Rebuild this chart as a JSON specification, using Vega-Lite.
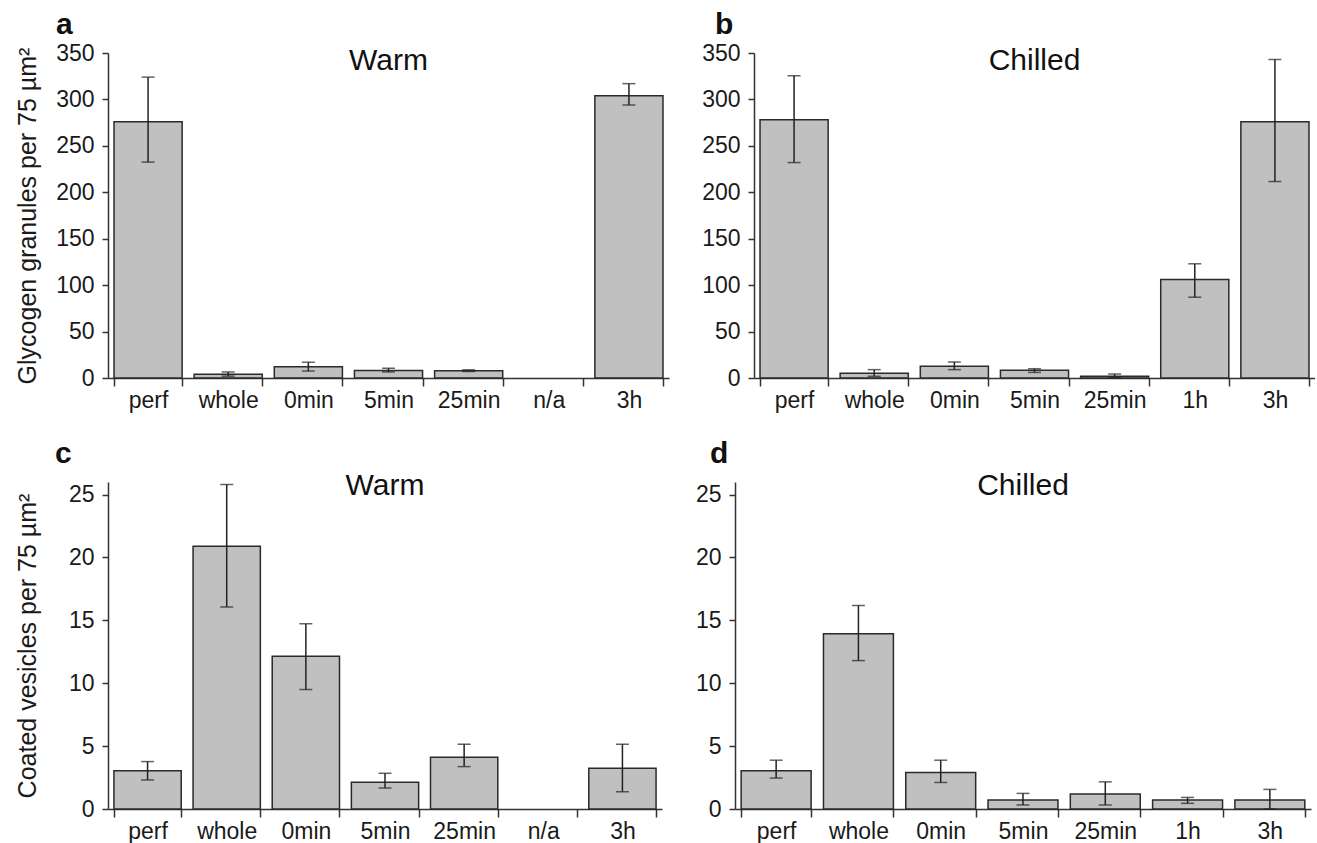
{
  "$schema": "https://vega.github.io/schema/vega-lite/v6.json",
  "background": "white",
  "padding": {"left": 15, "top": 10, "right": 0, "bottom": 0},
  "config": {
    "font": "Liberation Sans",
    "view": {"stroke": null},
    "axis": {
      "labelFont": "Liberation Sans", "labelFontSize": 23, "labelColor": "#1a1a1a",
      "domainColor": "#333333", "tickColor": "#333333", "domainWidth": 1.5, "tickWidth": 1.5,
      "grid": false, "titleFont": "Liberation Sans", "titleFontSize": 25, "titleFontWeight": "normal", "titleColor": "#1a1a1a"
    },
    "title": {"font": "Liberation Sans", "fontSize": 30, "fontWeight": "bold", "color": "#111111"}
  },
  "datasets": {
    "vals": [
      {"panel": "a", "cat": "perf", "mean": 276, "lo": 232.5, "hi": 324},
      {"panel": "a", "cat": "whole", "mean": 4, "lo": 2, "hi": 6.5},
      {"panel": "a", "cat": "0min", "mean": 12, "lo": 7.5, "hi": 17},
      {"panel": "a", "cat": "5min", "mean": 8, "lo": 6.5, "hi": 10.5},
      {"panel": "a", "cat": "25min", "mean": 7.8, "lo": 7, "hi": 8.8},
      {"panel": "a", "cat": "3h", "mean": 304, "lo": 294, "hi": 317},
      {"panel": "b", "cat": "perf", "mean": 278, "lo": 232, "hi": 325.5},
      {"panel": "b", "cat": "whole", "mean": 5, "lo": 1.8, "hi": 9},
      {"panel": "b", "cat": "0min", "mean": 12.6, "lo": 9, "hi": 17.2},
      {"panel": "b", "cat": "5min", "mean": 8.4, "lo": 6, "hi": 10},
      {"panel": "b", "cat": "25min", "mean": 1.8, "lo": 0.5, "hi": 4.3},
      {"panel": "b", "cat": "1h", "mean": 106, "lo": 87, "hi": 123},
      {"panel": "b", "cat": "3h", "mean": 276, "lo": 211.6, "hi": 343},
      {"panel": "c", "cat": "perf", "mean": 3.05, "lo": 2.31, "hi": 3.77},
      {"panel": "c", "cat": "whole", "mean": 20.9, "lo": 16.06, "hi": 25.8},
      {"panel": "c", "cat": "0min", "mean": 12.15, "lo": 9.5, "hi": 14.73},
      {"panel": "c", "cat": "5min", "mean": 2.12, "lo": 1.67, "hi": 2.84},
      {"panel": "c", "cat": "25min", "mean": 4.11, "lo": 3.37, "hi": 5.15},
      {"panel": "c", "cat": "3h", "mean": 3.24, "lo": 1.38, "hi": 5.15},
      {"panel": "d", "cat": "perf", "mean": 3.04, "lo": 2.46, "hi": 3.88},
      {"panel": "d", "cat": "whole", "mean": 13.94, "lo": 11.8, "hi": 16.18},
      {"panel": "d", "cat": "0min", "mean": 2.9, "lo": 2.11, "hi": 3.88},
      {"panel": "d", "cat": "5min", "mean": 0.71, "lo": 0.32, "hi": 1.24},
      {"panel": "d", "cat": "25min", "mean": 1.19, "lo": 0.32, "hi": 2.16},
      {"panel": "d", "cat": "1h", "mean": 0.71, "lo": 0.45, "hi": 0.92},
      {"panel": "d", "cat": "3h", "mean": 0.71, "lo": 0, "hi": 1.56}
    ]
  },
  "spacing": 26,
  "vconcat": [
    {
      "spacing": 32,
      "hconcat": [
        {
          "width": 561, "height": 325,
          "title": {"text": "a", "anchor": "start", "frame": "group", "dx": -52, "baseline": "alphabetic", "offset": -22},
          "data": {"name": "vals"},
          "transform": [{"filter": "datum.panel == 'a'"}],
          "layer": [
            {"mark": {"type": "bar", "fill": "#c0c0c0", "stroke": "#2a2a2a", "strokeWidth": 1.5},
             "encoding": {
               "x": {"field": "cat", "type": "nominal", "scale": {"domain": ["perf", "whole", "0min", "5min", "25min", "n/a", "3h"], "paddingInner": 0.15, "paddingOuter": 0.075}, "axis": {"title": null, "labelAngle": 0, "tickBand": "extent", "tickSize": 8, "labelPadding": 3}},
               "y": {"field": "mean", "type": "quantitative", "scale": {"domain": [0, 350], "nice": false}, "axis": {"title": "Glycogen granules per 75 µm²", "values": [0, 50, 100, 150, 200, 250, 300, 350], "tickSize": 6, "labelPadding": 8, "minExtent": 51, "maxExtent": 51, "titlePadding": 17}}
             }},
            {"mark": {"type": "rule", "color": "#222222", "strokeWidth": 1.5},
             "encoding": {"x": {"field": "cat", "type": "nominal"}, "y": {"field": "lo", "type": "quantitative"}, "y2": {"field": "hi"}}},
            {"mark": {"type": "tick", "color": "#222222", "thickness": 1.5, "size": 13},
             "encoding": {"x": {"field": "cat", "type": "nominal"}, "y": {"field": "lo", "type": "quantitative"}}},
            {"mark": {"type": "tick", "color": "#222222", "thickness": 1.5, "size": 13},
             "encoding": {"x": {"field": "cat", "type": "nominal"}, "y": {"field": "hi", "type": "quantitative"}}},
            {"data": {"values": [{"cond": "Warm"}]},
             "mark": {"type": "text", "fontSize": 30, "baseline": "alphabetic", "color": "#111111", "font": "Liberation Sans"},
             "encoding": {"x": {"datum": "5min"}, "y": {"datum": 332}, "text": {"field": "cond"}}}
          ]
        },
        {
          "width": 561, "height": 325,
          "title": {"text": "b", "anchor": "start", "frame": "group", "dx": -39, "baseline": "alphabetic", "offset": -22},
          "data": {"name": "vals"},
          "transform": [{"filter": "datum.panel == 'b'"}],
          "layer": [
            {"mark": {"type": "bar", "fill": "#c0c0c0", "stroke": "#2a2a2a", "strokeWidth": 1.5},
             "encoding": {
               "x": {"field": "cat", "type": "nominal", "scale": {"domain": ["perf", "whole", "0min", "5min", "25min", "1h", "3h"], "paddingInner": 0.15, "paddingOuter": 0.075}, "axis": {"title": null, "labelAngle": 0, "tickBand": "extent", "tickSize": 8, "labelPadding": 3}},
               "y": {"field": "mean", "type": "quantitative", "scale": {"domain": [0, 350], "nice": false}, "axis": {"title": null, "values": [0, 50, 100, 150, 200, 250, 300, 350], "tickSize": 6, "labelPadding": 8, "minExtent": 51, "maxExtent": 51}}
             }},
            {"mark": {"type": "rule", "color": "#222222", "strokeWidth": 1.5},
             "encoding": {"x": {"field": "cat", "type": "nominal"}, "y": {"field": "lo", "type": "quantitative"}, "y2": {"field": "hi"}}},
            {"mark": {"type": "tick", "color": "#222222", "thickness": 1.5, "size": 13},
             "encoding": {"x": {"field": "cat", "type": "nominal"}, "y": {"field": "lo", "type": "quantitative"}}},
            {"mark": {"type": "tick", "color": "#222222", "thickness": 1.5, "size": 13},
             "encoding": {"x": {"field": "cat", "type": "nominal"}, "y": {"field": "hi", "type": "quantitative"}}},
            {"data": {"values": [{"cond": "Chilled"}]},
             "mark": {"type": "text", "fontSize": 30, "baseline": "alphabetic", "color": "#111111", "font": "Liberation Sans"},
             "encoding": {"x": {"datum": "5min"}, "y": {"datum": 332}, "text": {"field": "cond"}}}
          ]
        }
      ]
    },
    {
      "spacing": 32,
      "hconcat": [
        {
          "width": 554, "height": 327,
          "title": {"text": "c", "anchor": "start", "frame": "group", "dx": -53, "baseline": "alphabetic", "offset": -22},
          "data": {"name": "vals"},
          "transform": [{"filter": "datum.panel == 'c'"}],
          "layer": [
            {"mark": {"type": "bar", "fill": "#c0c0c0", "stroke": "#2a2a2a", "strokeWidth": 1.5},
             "encoding": {
               "x": {"field": "cat", "type": "nominal", "scale": {"domain": ["perf", "whole", "0min", "5min", "25min", "n/a", "3h"], "paddingInner": 0.15, "paddingOuter": 0.075}, "axis": {"title": null, "labelAngle": 0, "tickBand": "extent", "tickSize": 8, "labelPadding": 3}},
               "y": {"field": "mean", "type": "quantitative", "scale": {"domain": [0, 26], "nice": false}, "axis": {"title": "Coated vesicles per 75 µm²", "values": [0, 5, 10, 15, 20, 25], "tickSize": 6, "labelPadding": 8, "minExtent": 41, "maxExtent": 41, "titlePadding": 27}}
             }},
            {"mark": {"type": "rule", "color": "#222222", "strokeWidth": 1.5},
             "encoding": {"x": {"field": "cat", "type": "nominal"}, "y": {"field": "lo", "type": "quantitative"}, "y2": {"field": "hi"}}},
            {"mark": {"type": "tick", "color": "#222222", "thickness": 1.5, "size": 13},
             "encoding": {"x": {"field": "cat", "type": "nominal"}, "y": {"field": "lo", "type": "quantitative"}}},
            {"mark": {"type": "tick", "color": "#222222", "thickness": 1.5, "size": 13},
             "encoding": {"x": {"field": "cat", "type": "nominal"}, "y": {"field": "hi", "type": "quantitative"}}},
            {"data": {"values": [{"cond": "Warm"}]},
             "mark": {"type": "text", "fontSize": 30, "baseline": "alphabetic", "color": "#111111", "font": "Liberation Sans"},
             "encoding": {"x": {"datum": "5min"}, "y": {"datum": 25}, "text": {"field": "cond"}}}
          ]
        },
        {
          "width": 576, "height": 327,
          "title": {"text": "d", "anchor": "start", "frame": "group", "dx": -25, "baseline": "alphabetic", "offset": -22},
          "data": {"name": "vals"},
          "transform": [{"filter": "datum.panel == 'd'"}],
          "layer": [
            {"mark": {"type": "bar", "fill": "#c0c0c0", "stroke": "#2a2a2a", "strokeWidth": 1.5},
             "encoding": {
               "x": {"field": "cat", "type": "nominal", "scale": {"domain": ["perf", "whole", "0min", "5min", "25min", "1h", "3h"], "paddingInner": 0.15, "paddingOuter": 0.075}, "axis": {"title": null, "labelAngle": 0, "tickBand": "extent", "tickSize": 8, "labelPadding": 3}},
               "y": {"field": "mean", "type": "quantitative", "scale": {"domain": [0, 26], "nice": false}, "axis": {"title": null, "values": [0, 5, 10, 15, 20, 25], "tickSize": 6, "labelPadding": 8, "minExtent": 41, "maxExtent": 41}}
             }},
            {"mark": {"type": "rule", "color": "#222222", "strokeWidth": 1.5},
             "encoding": {"x": {"field": "cat", "type": "nominal"}, "y": {"field": "lo", "type": "quantitative"}, "y2": {"field": "hi"}}},
            {"mark": {"type": "tick", "color": "#222222", "thickness": 1.5, "size": 13},
             "encoding": {"x": {"field": "cat", "type": "nominal"}, "y": {"field": "lo", "type": "quantitative"}}},
            {"mark": {"type": "tick", "color": "#222222", "thickness": 1.5, "size": 13},
             "encoding": {"x": {"field": "cat", "type": "nominal"}, "y": {"field": "hi", "type": "quantitative"}}},
            {"data": {"values": [{"cond": "Chilled"}]},
             "mark": {"type": "text", "fontSize": 30, "baseline": "alphabetic", "color": "#111111", "font": "Liberation Sans"},
             "encoding": {"x": {"datum": "5min"}, "y": {"datum": 25}, "text": {"field": "cond"}}}
          ]
        }
      ]
    }
  ]
}
